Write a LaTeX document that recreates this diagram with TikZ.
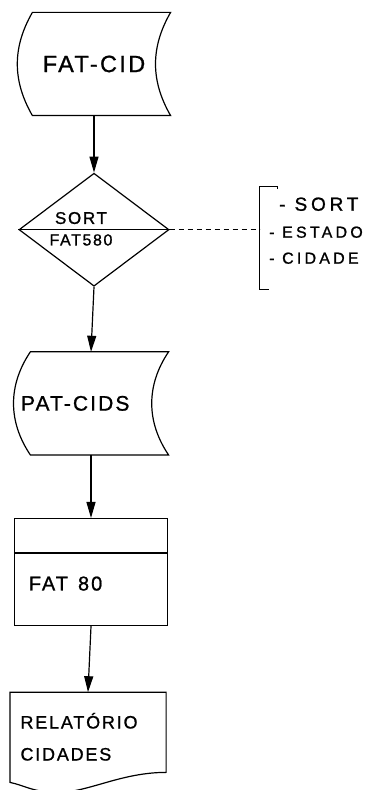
\documentclass[tikz,border=0pt]{standalone}
\usepackage{fontspec}
\setmainfont{Liberation Sans}
\newfontfamily\hand[LetterSpace=10,FakeBold=1]{Liberation Sans}
\newfontfamily\handwide[LetterSpace=20,FakeBold=1]{Liberation Sans}
\usetikzlibrary{positioning}
\usetikzlibrary{shapes.geometric}
\usetikzlibrary{arrows.meta}

\begin{document}
\begin{tikzpicture}[x=1pt,y=1pt,line width=1.2pt,
		storage/.style={minimum width=152pt,minimum height=102pt,inner sep=0pt},
		sortbox/.style={diamond,draw,minimum width=150pt,minimum height=113pt,inner sep=0pt},
		process/.style={draw,minimum width=153pt,minimum height=107pt,inner sep=0pt},
		report/.style={minimum width=155pt,minimum height=88pt,inner xsep=10pt,text width=135pt,align=left},
		flow/.style={-{Triangle[length=16pt,width=9pt]}},
		key/.style={anchor=west,inner sep=0pt},
		keyline/.style={line width=0.8pt,dash pattern=on 5pt off 4pt}]

				\useasboundingbox (0,0) rectangle (371,790);

				\node (cid) [storage,font=\hand\fontsize{23.5}{28}\selectfont] at (94,726) {FAT-CID};
				\node (srt) [sortbox,below=57pt of cid] {};
				\node (cids) [storage,minimum width=154pt,text width=140pt,inner xsep=7pt,align=left,
					below=65pt of srt,xshift=-3pt,font=\hand\fontsize{21}{25}\selectfont] {PAT-CIDS};
				\node (fat) [process,below=63pt of cids] {};
				\node (doc) [report,below=66pt of fat,xshift=-3pt,font=\hand\fontsize{18}{32}\selectfont] {RELATÓRIO\\CIDADES};

				\node (srttop) [above=5pt of srt.center,xshift=-13pt,inner sep=0pt,font=\hand\fontsize{17}{17}\selectfont] {SORT};
				\node (srtname) [below=4pt of srt.center,xshift=-13pt,inner sep=0pt,font=\hand\fontsize{16}{16}\selectfont] {FAT580};
				\node (fatname) [anchor=west,font=\hand\fontsize{20}{24}\selectfont] at ([xshift=11pt,yshift=-11.5pt]fat.west) {FAT\hspace{10pt}80};

				\coordinate [right=90pt of srt.east] (brmid);
				\foreach \i/\word/\sz/\dx/\dy in {1/SORT/19/19/25.5,2/ESTADO/16/9/-2.5,3/CIDADE/16/9/-28.5} {
					\node (key\i) [key,font=\handwide\fontsize{\sz}{\sz}\selectfont] at ([xshift=\dx pt,yshift=\dy pt]brmid) {- \word};
				}

				\foreach \n/\bulge/\ang in {cid/15/30,cids/17/34} {
					\draw ([xshift=\bulge pt]\n.south west) to[bend left=\ang] ([xshift=\bulge pt]\n.north west)
						-- (\n.north east) to[bend right=\ang] (\n.south east) -- cycle;
				}
				\draw (srt.west) -- (srt.east);
				\draw ([yshift=-35pt]fat.north west) -- ([yshift=-35pt]fat.north east);
				\draw (doc.north west) -- (doc.north east) -- ([yshift=9pt]doc.south east)
					.. controls +(-45,0) and +(30,0) .. ([xshift=-30pt,yshift=-11pt]doc.south)
					.. controls +(-25,0) and +(15,-3) .. ([yshift=-1pt]doc.south west) -- cycle;

				\draw [keyline] (srt.east) -- (brmid);
				\draw ([xshift=18pt,yshift=40.5pt]brmid) -- ([xshift=18pt,yshift=43.5pt]brmid)
					-- ([yshift=43.5pt]brmid) -- ([yshift=-59.5pt]brmid) -- ([xshift=9pt,yshift=-59.5pt]brmid);

				\draw [flow] (cid.south) -- (srt.north);
				\draw [flow] (srt.south) -- (cids.north);
				\draw [flow] (cids.south) -- (fat.north);
				\draw [flow] (fat.south) -- (doc.north);
			\end{tikzpicture}
\end{document}
